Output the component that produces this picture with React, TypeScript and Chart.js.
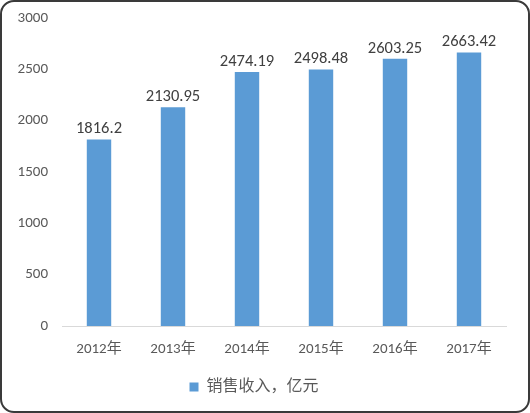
import React, { useEffect, useRef } from "react";
import { Chart, registerables, Plugin } from "chart.js";

Chart.register(...registerables);

const years = ["2012年", "2013年", "2014年", "2015年", "2016年", "2017年"];
const revenue = [1816.2, 2130.95, 2474.19, 2498.48, 2603.25, 2663.42];
const seriesName = "销售收入，亿元";

const FONT = "Calibri, Carlito, 'Noto Sans CJK SC', 'Noto Sans', sans-serif";

// draws the value above every bar
const valueLabels: Plugin<"bar"> = {
  id: "valueLabels",
  afterDatasetsDraw(chart) {
    const ctx = chart.ctx;
    const meta = chart.getDatasetMeta(0);
    ctx.save();
    ctx.font = "16.5px " + FONT;
    ctx.fillStyle = "#404040";
    ctx.textAlign = "center";
    ctx.textBaseline = "bottom";
    meta.data.forEach((bar, i) => {
      const v = chart.data.datasets[0].data[i] as number;
      ctx.fillText(String(v), bar.x, bar.y - 2);
    });
    ctx.restore();
  },
};

const App = () => {
  const canvasRef = useRef<HTMLCanvasElement | null>(null);
  const chartRef = useRef<Chart<"bar", number[], string> | null>(null);

  useEffect(() => {
    document.body.style.margin = "0";
    const ctx = canvasRef.current?.getContext("2d");
    if (chartRef.current) chartRef.current.destroy();
    if (!ctx) return;

    chartRef.current = new Chart(ctx, {
      type: "bar",
      data: {
        labels: years,
        datasets: [
          {
            label: seriesName,
            data: revenue,
            backgroundColor: "#5b9bd5",
            barPercentage: 0.33,
            categoryPercentage: 1,
          },
        ],
      },
      options: {
        animation: false,
        responsive: false,
        maintainAspectRatio: false,
        layout: { padding: { top: 0, right: 22, left: 0, bottom: 6 } },
        scales: {
          x: {
            grid: { display: false, drawTicks: false },
            border: { display: true, color: "#d9d9d9", width: 1 },
            ticks: { color: "#595959", font: { size: 15, family: FONT }, padding: 14 },
          },
          y: {
            min: 0,
            max: 3000,
            grid: { display: false, drawTicks: false },
            border: { display: false },
            ticks: {
              stepSize: 500,
              color: "#595959",
              font: { size: 15, family: FONT },
              padding: 14,
              callback: (v) => String(v),
            },
            afterFit: (s) => {
              s.width = 60;
            },
          },
        },
        plugins: {
          legend: {
            position: "bottom",
            labels: {
              usePointStyle: true,
              pointStyle: "rect",
              boxWidth: 9,
              boxHeight: 9,
              color: "#595959",
              font: { size: 16, family: FONT },
              padding: 7,
            },
          },
          tooltip: { enabled: false },
        },
      },
      plugins: [valueLabels],
    });

    return () => {
      if (chartRef.current) chartRef.current.destroy();
    };
  }, []);

  return (
    <div
      style={{
        position: "absolute",
        left: 0,
        top: 0,
        width: 530,
        height: 413,
        boxSizing: "border-box",
        border: "2px solid #3a3a3a",
        borderRadius: 14,
        background: "#fff",
        overflow: "hidden",
      }}
    >
      <canvas
        ref={canvasRef}
        width={526}
        height={416}
        style={{ display: "block", marginTop: -7 }}
      />
    </div>
  );
};

export default App;
